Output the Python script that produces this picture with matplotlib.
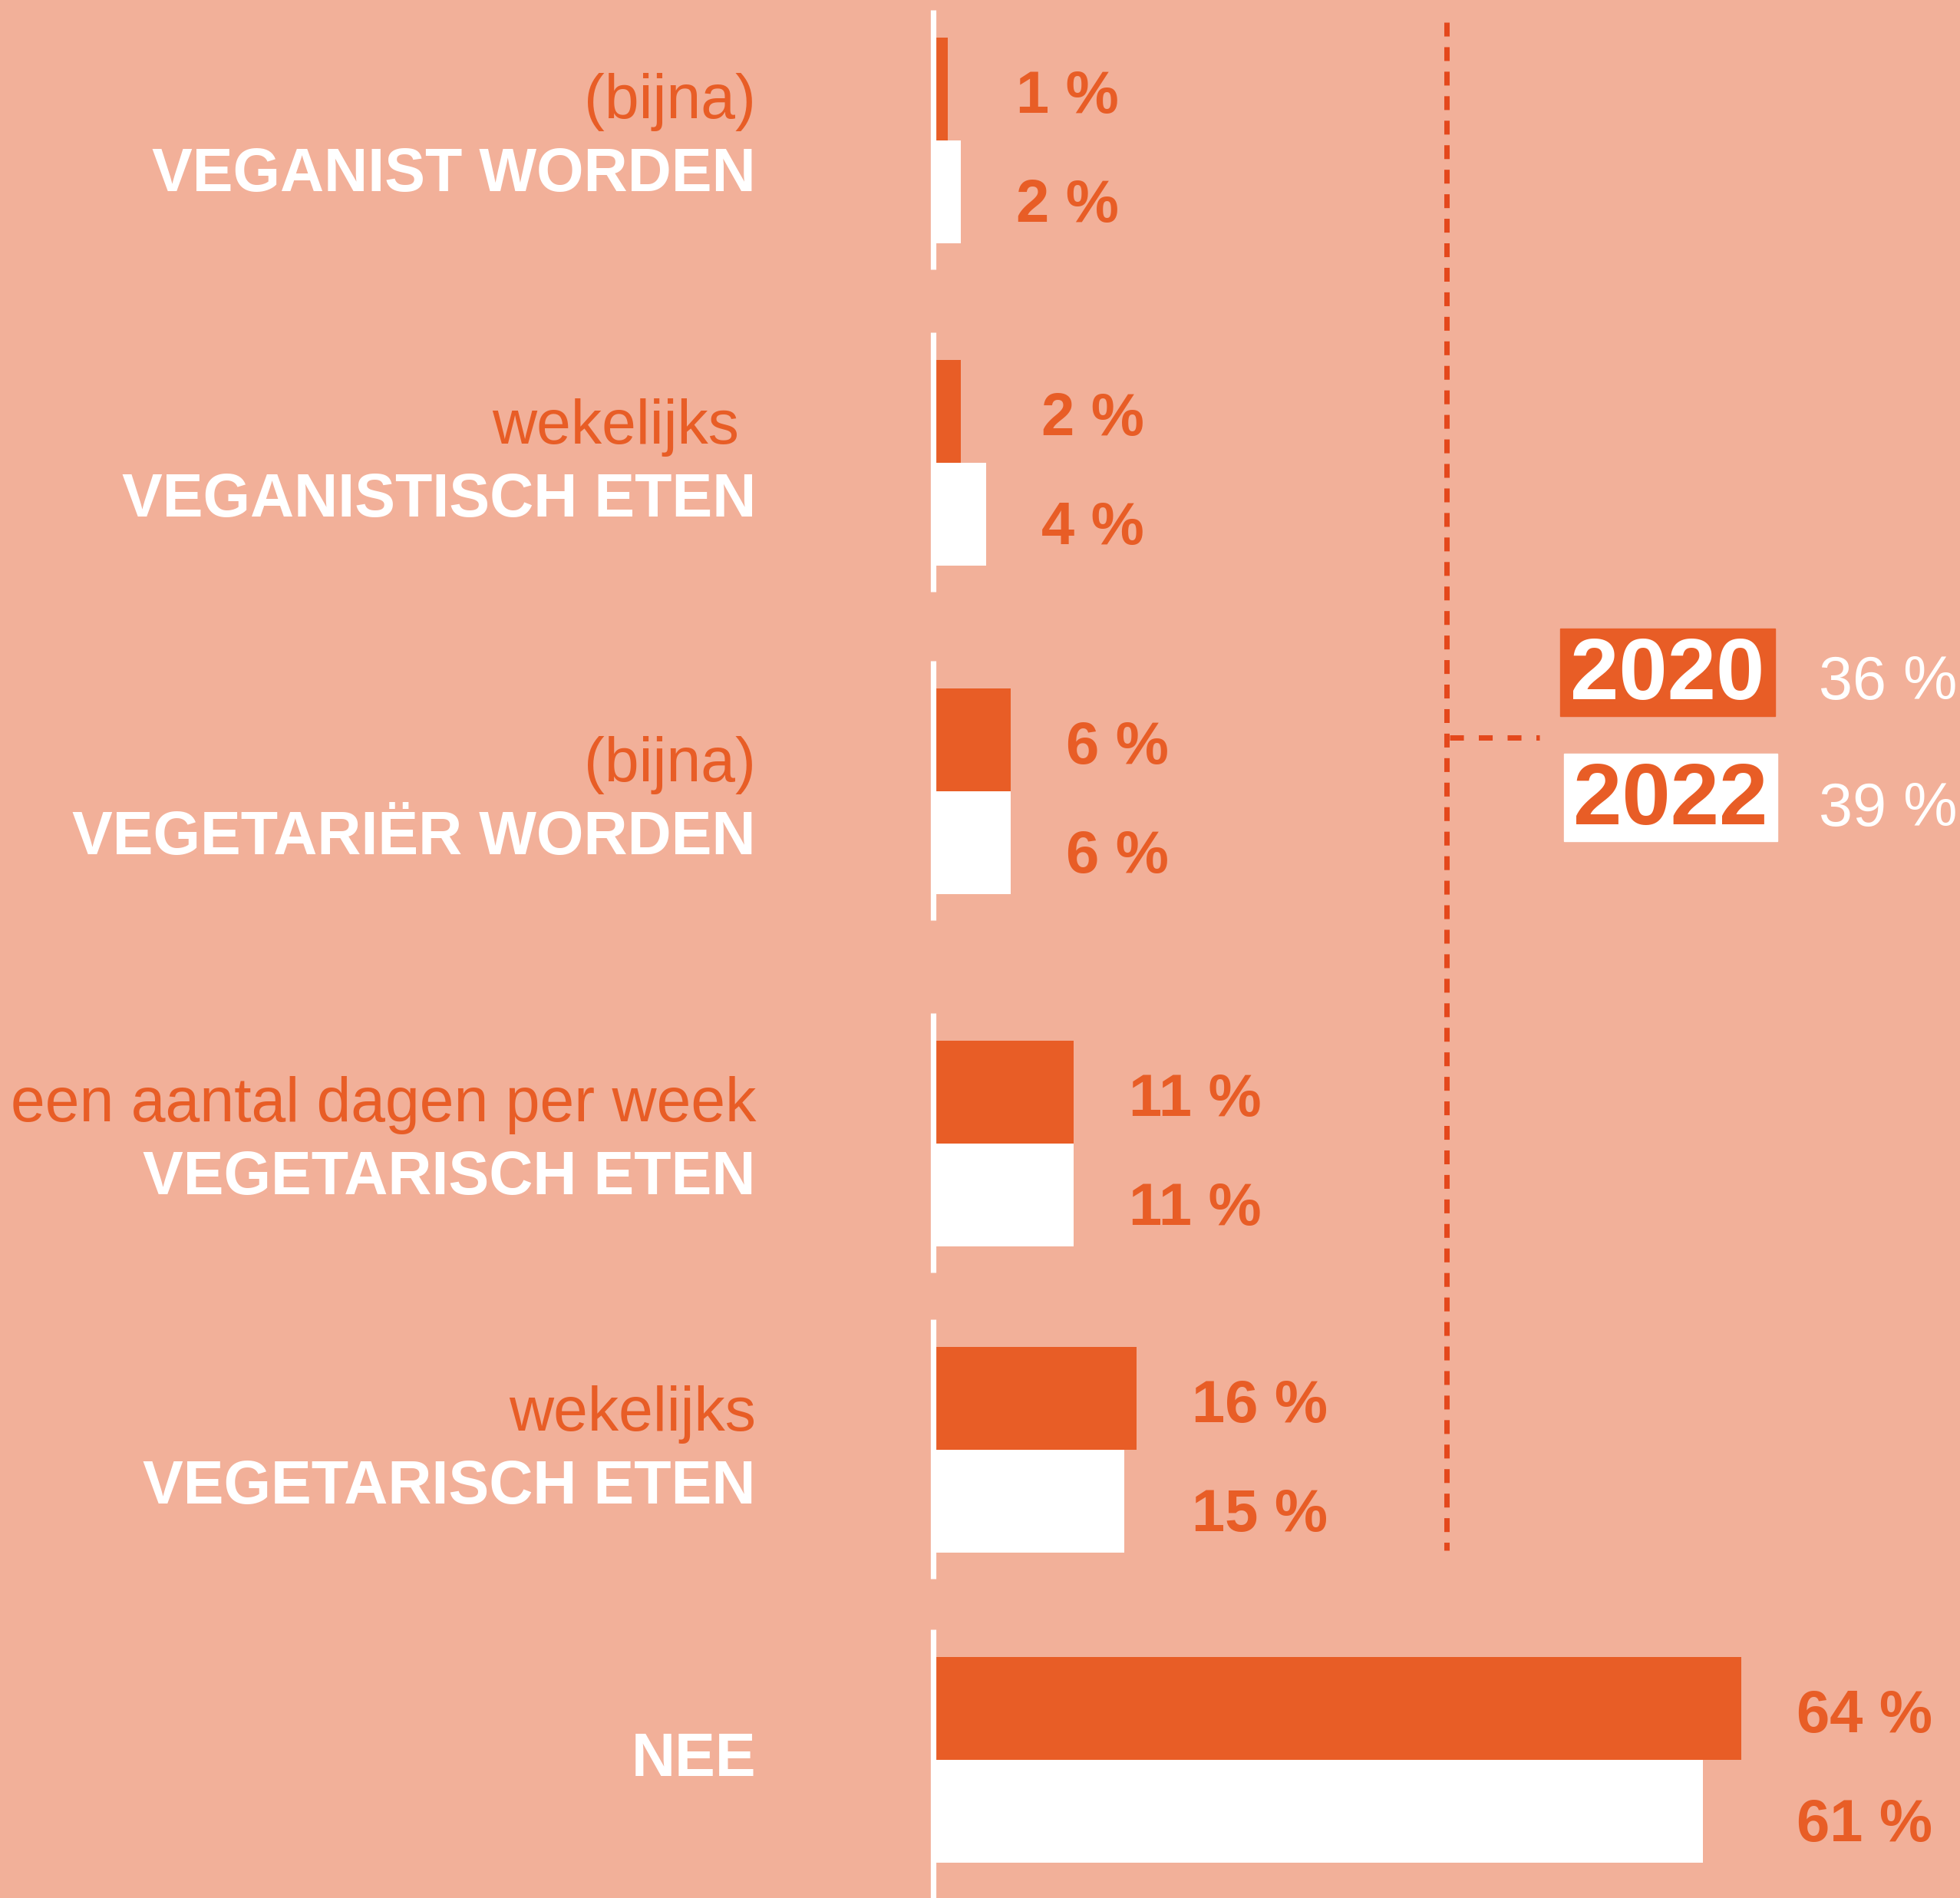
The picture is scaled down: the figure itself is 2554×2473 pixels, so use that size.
import matplotlib.pyplot as plt
from matplotlib.patches import Rectangle

# data
top_lines = ['(bijna)', 'wekelijks ', '(bijna)', 'een aantal dagen per week', 'wekelijks', '']
main_lines = ['VEGANIST WORDEN', 'VEGANISTISCH ETEN', 'VEGETARIËR WORDEN',
              'VEGETARISCH ETEN', 'VEGETARISCH ETEN', 'NEE']
vals_2020 = [1, 2, 6, 11, 16, 64]
vals_2022 = [2, 4, 6, 11, 15, 61]
legend_years = ['2020', '2022']
legend_totals = ['36 %', '39 %']

# colours / layout
BG = '#F2B099'
ORANGE = '#E85D26'
DOT = '#E4481C'
WHITE = '#FFFFFF'
W, H = 2554, 2473
X0 = 1219          # pixel where the bars start
PPP = 16.4         # pixels per percent
centers = [183, 603, 1031, 1490, 1889, 2293]   # boundary between the two bars
label_shift = [0, 4, 16, 0, 4, 6]
BAR_H = 134


def px(x):
    # pixel x -> data x (percent)
    return (x - X0) / PPP


plt.rcParams['font.family'] = ['Liberation Sans', 'DejaVu Sans']

fig = plt.figure(figsize=(W / 100, H / 100), dpi=100, facecolor=BG)
ax = fig.add_axes([0, 0, 1, 1])
ax.set_facecolor(BG)
ax.set_xlim(px(0), px(W))
ax.set_ylim(H, 0)
ax.axis('off')

y20 = [c - BAR_H / 2 for c in centers]
y22 = [c + BAR_H / 2 for c in centers]
ax.barh(y20, vals_2020, height=BAR_H, left=0, color=ORANGE, zorder=3)
ax.barh(y22, vals_2022, height=BAR_H, left=0, color=WHITE, zorder=3)

# white baseline per group
for i, c in enumerate(centers):
    bottom = H if i == len(centers) - 1 else c + 168
    ax.plot([px(1215.5), px(1215.5)], [c - 170, bottom], color=WHITE, lw=5.2,
            solid_capstyle='butt', zorder=4)

# category labels
for i, c in enumerate(centers):
    c = c + label_shift[i]
    if top_lines[i]:
        ax.text(px(985), c - 50, top_lines[i], ha='right', va='center',
                fontsize=58, color=ORANGE)
        ax.text(px(985), c + 45, main_lines[i], ha='right', va='center',
                fontsize=57, color=WHITE, fontweight='bold')
    else:
        ax.text(px(985), c - 6, main_lines[i], ha='right', va='center',
                fontsize=57, color=WHITE, fontweight='bold')

# value labels
for i, c in enumerate(centers):
    xl = max(vals_2020[i], vals_2022[i]) + 72 / PPP
    ax.text(xl, y20[i] + 10, f'{vals_2020[i]} %', ha='left', va='center',
            fontsize=56, color=ORANGE, fontweight='bold')
    ax.text(xl, y22[i] + 18, f'{vals_2022[i]} %', ha='left', va='center',
            fontsize=56, color=ORANGE, fontweight='bold')

# dotted bracket
ax.plot([px(1885), px(1885)], [29, 2020], color=DOT, lw=5,
        dashes=(2.6, 2.0), zorder=2)
ax.plot([px(1889), px(2006)], [961, 961], color=DOT, lw=5,
        dashes=(2.6, 2.8), zorder=2)

# legend boxes
ax.add_patch(Rectangle((px(2033), 819), 280 / PPP, 114, color=ORANGE, zorder=3))
ax.add_patch(Rectangle((px(2038), 982), 278 / PPP, 114, color=WHITE, zorder=3))
ax.text(px(2173), 882, legend_years[0], ha='center', va='center',
        fontsize=82, color=WHITE, fontweight='bold', zorder=4)
ax.text(px(2177), 1045, legend_years[1], ha='center', va='center',
        fontsize=82, color=ORANGE, fontweight='bold', zorder=4)
ax.text(px(2370), 890, legend_totals[0], ha='left', va='center',
        fontsize=57, color=WHITE)
ax.text(px(2370), 1055, legend_totals[1], ha='left', va='center',
        fontsize=57, color=WHITE)

fig.savefig('out.png', dpi=100, facecolor=BG)
